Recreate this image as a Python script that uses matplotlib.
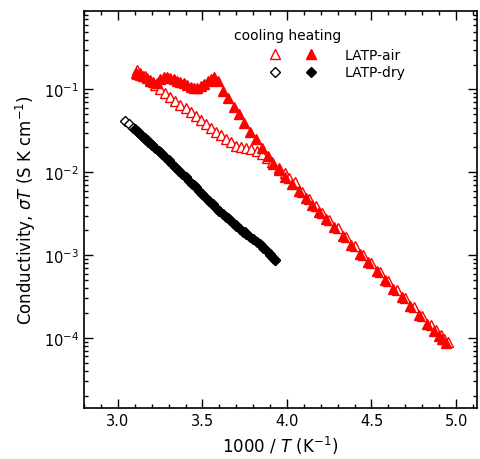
import matplotlib
matplotlib.use("Agg")
import matplotlib.pyplot as plt
from matplotlib.legend_handler import HandlerTuple
from matplotlib.ticker import LogLocator, NullFormatter

# LATP-air, cooling (open triangles)
air_cool_x = [3.11, 3.13, 3.16, 3.19, 3.22, 3.25, 3.28, 3.31, 3.34, 3.37, 3.40, 3.43,
              3.46, 3.49, 3.52, 3.55, 3.58, 3.61, 3.64, 3.67, 3.70, 3.73, 3.76, 3.79,
              3.82, 3.85, 3.88, 3.91, 3.95, 3.99,
              4.01, 4.05, 4.09, 4.13, 4.17, 4.21, 4.25, 4.30, 4.35, 4.40, 4.45, 4.50,
              4.55, 4.60, 4.65, 4.70, 4.75, 4.80, 4.85, 4.88, 4.91, 4.93, 4.95]
air_cool_y = [0.172, 0.158, 0.145, 0.128, 0.112, 0.100, 0.090, 0.081, 0.073, 0.065, 0.059, 0.053,
              0.048, 0.043, 0.038, 0.034, 0.031, 0.028, 0.025, 0.023, 0.021, 0.020, 0.0197, 0.0190,
              0.0182, 0.0168, 0.0150, 0.0133, 0.0112, 0.0097,
              8.59e-3, 7.57e-3, 5.82e-3, 4.79e-3, 3.95e-3, 3.25e-3, 2.67e-3, 2.10e-3, 1.64e-3,
              1.29e-3, 1.01e-3, 7.94e-4, 6.22e-4, 4.89e-4, 3.83e-4, 3.01e-4, 2.36e-4, 1.85e-4,
              1.45e-4, 1.25e-4, 1.08e-4, 9.8e-5, 8.9e-5]

# LATP-air, heating (filled triangles)
air_heat_x = [3.105, 3.115, 3.13, 3.15, 3.17, 3.19, 3.21, 3.23, 3.25, 3.27, 3.29, 3.31,
              3.33, 3.35, 3.37, 3.39, 3.41, 3.43, 3.45, 3.47, 3.49, 3.51, 3.53, 3.55,
              3.57, 3.59, 3.62, 3.65, 3.686, 3.716, 3.746, 3.781, 3.817, 3.852, 3.888,
              3.917, 3.953,
              3.99, 4.03, 4.07, 4.11, 4.15, 4.19, 4.23, 4.28, 4.33, 4.38, 4.43, 4.48,
              4.53, 4.58, 4.63, 4.68, 4.73, 4.78, 4.83, 4.87, 4.90, 4.92, 4.94]
air_heat_y = [0.160, 0.155, 0.150, 0.145, 0.137, 0.130, 0.124, 0.121, 0.133, 0.143, 0.140, 0.137,
              0.133, 0.128, 0.124, 0.119, 0.113, 0.106, 0.103, 0.105, 0.110, 0.118, 0.126, 0.135,
              0.140, 0.128, 0.097, 0.078, 0.062, 0.050, 0.039, 0.031, 0.025, 0.0195, 0.0156,
              0.0125, 0.0106,
              8.83e-3, 7.27e-3, 5.99e-3, 4.93e-3, 4.06e-3, 3.34e-3, 2.75e-3, 2.16e-3, 1.69e-3,
              1.33e-3, 1.04e-3, 8.17e-4, 6.41e-4, 5.02e-4, 3.94e-4, 3.09e-4, 2.43e-4, 1.90e-4,
              1.49e-4, 1.23e-4, 1.06e-4, 9.6e-5, 8.7e-5]

# LATP-dry, cooling (open diamonds)
dry_cool_x = [3.04, 3.065, 3.09, 3.12, 3.16, 3.20, 3.25, 3.30, 3.35, 3.40, 3.45, 3.50,
              3.55, 3.60, 3.65, 3.70, 3.75, 3.80, 3.85, 3.90, 3.93]
dry_cool_y = [0.042, 0.038, 0.034, 0.0305, 0.0257, 0.0216, 0.0175, 0.0139, 0.0111, 0.0088,
              0.0070, 0.0055, 0.0043, 0.0034, 0.0028, 0.0023, 0.0019, 0.00157, 0.0013,
              0.00102, 0.00088]

# LATP-dry, heating (filled diamonds)
dry_heat_x = [3.10, 3.11, 3.12, 3.13, 3.14, 3.15, 3.16, 3.17, 3.18, 3.19, 3.20, 3.22, 3.24,
              3.26, 3.28, 3.30, 3.32, 3.34, 3.36, 3.38, 3.40, 3.42, 3.44, 3.46, 3.48,
              3.50, 3.52, 3.54, 3.56, 3.58, 3.60, 3.62, 3.64, 3.66, 3.68, 3.70, 3.72,
              3.74, 3.76, 3.78, 3.80, 3.82, 3.84, 3.86, 3.88, 3.90, 3.92, 3.93]
dry_heat_y = [0.0331, 0.0317, 0.0303, 0.0290, 0.0278, 0.0266, 0.0255, 0.0244, 0.0233, 0.0223,
              0.0214, 0.0196, 0.0180, 0.0165, 0.0151,
              0.0138, 0.0126, 0.0115, 0.0104, 0.00953, 0.00869, 0.00791, 0.00721, 0.00656,
              0.00598, 0.00545, 0.00495, 0.00451, 0.00410, 0.00373, 0.00342, 0.00314,
              0.00289, 0.00265, 0.00244, 0.00224, 0.00206, 0.00192, 0.00179, 0.00167,
              0.00155, 0.00145, 0.00135, 0.00122, 0.00111, 0.00101, 0.000914, 0.000871]


def report():
    fig = plt.figure(figsize=(4.81, 4.60), dpi=100)
    ax = fig.add_axes([0.1746, 0.1109, 0.817, 0.863])

    red = '#ff0000'
    ms = 6.5
    c_air, = ax.plot(air_cool_x, air_cool_y, ls='none', marker='^', ms=ms,
                     mfc='white', mec=red, mew=1.0)
    h_air, = ax.plot(air_heat_x, air_heat_y, ls='none', marker='^', ms=ms,
                     mfc=red, mec=red, mew=1.0)
    c_dry, = ax.plot(dry_cool_x, dry_cool_y, ls='none', marker='D', ms=5.5,
                     mfc='white', mec='black', mew=1.0)
    h_dry, = ax.plot(dry_heat_x, dry_heat_y, ls='none', marker='D', ms=5.5,
                     mfc='black', mec='black', mew=1.0)

    ax.set_yscale('log')
    ax.set_xlim(2.799, 5.124)
    ax.set_ylim(1.43e-5, 0.885)
    ax.set_xticks([3.0, 3.5, 4.0, 4.5, 5.0])
    ax.set_xticks([x / 10 for x in range(28, 52)], minor=True)
    ax.yaxis.set_minor_locator(LogLocator(base=10, subs=range(2, 10), numticks=20))
    ax.yaxis.set_minor_formatter(NullFormatter())

    ax.tick_params(which='both', direction='in', top=True, right=True,
                   width=1.0, labelsize=10.5)
    ax.tick_params(which='major', length=6.5)
    ax.tick_params(which='minor', length=3.2)
    for s in ax.spines.values():
        s.set_linewidth(1.2)

    ax.set_xlabel(r'1000 / $T$ (K$^{-1}$)', fontsize=12)
    ax.set_ylabel(r'Conductivity, $\sigma T$ (S K cm$^{-1}$)', fontsize=12)

    ax.text(0.382, 0.94, 'cooling heating', transform=ax.transAxes,
            ha='left', va='center', fontsize=10)
    ax.legend([(c_air, h_air), (c_dry, h_dry)], ['LATP-air', 'LATP-dry'],
              handler_map={tuple: HandlerTuple(ndivide=None, pad=0)},
              loc='upper left', bbox_to_anchor=(0.44, 0.907), frameon=False,
              fontsize=10, handlelength=5.2, handletextpad=1.15,
              labelspacing=0.25, borderpad=0, borderaxespad=0)

    fig.savefig('out.png', dpi=100)


if __name__ == "__main__":
    report()
